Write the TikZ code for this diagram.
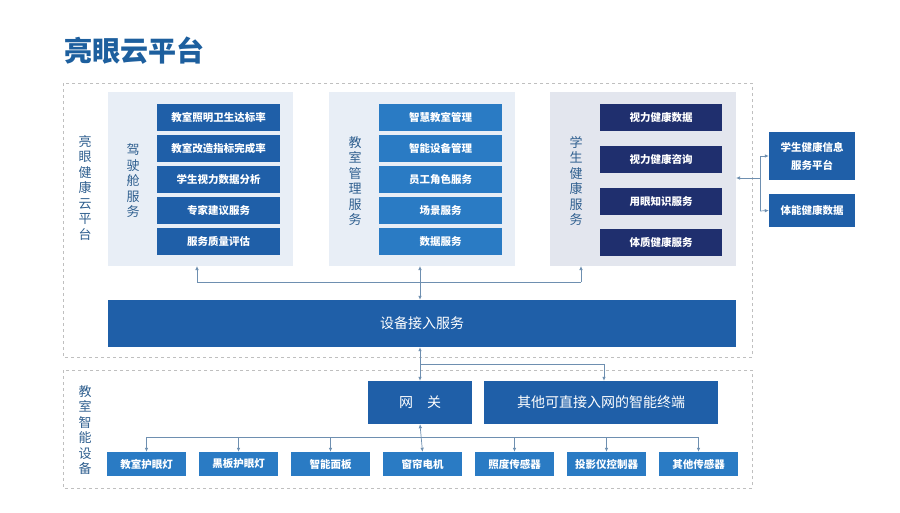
\documentclass[tikz,border=0pt]{standalone}
\usepackage{fontspec}
\setmainfont{Noto Sans CJK SC}
\usetikzlibrary{arrows.meta}
\definecolor{tb}{HTML}{1D5F9E}
\definecolor{db}{HTML}{1F5FA8}
\definecolor{lb}{HTML}{2A7BC4}
\definecolor{nv}{HTML}{1F2F6E}
\definecolor{p1}{HTML}{E8EEF6}
\definecolor{p3}{HTML}{E3E6EE}
\definecolor{ln}{HTML}{6E8FB0}
\definecolor{lab}{HTML}{2F5F8F}
\begin{document}
\begin{tikzpicture}[x=1pt,y=-1pt,
 bx/.style={draw=none,text=white,font=\fontsize{10.5}{12}\selectfont\bfseries,inner sep=0},
 vl/.style={text=lab,font=\fontsize{13}{15.5}\selectfont,align=center,inner sep=0},
 cn/.style={draw=ln,line width=0.7pt},
 ar/.style={cn,-{Latex[length=4pt,width=3.5pt]}},
 da/.style={cn,{Latex[length=4pt,width=3.5pt]}-{Latex[length=4pt,width=3.5pt]}},
 dsh/.style={draw=black!25,dashed,line width=0.6pt}]
\useasboundingbox (0,0) rectangle (900,512);
\fill[white] (0,0) rectangle (900,512);
\node[anchor=west,text=tb,font=\fontsize{28}{32}\selectfont\bfseries,inner sep=0] (title) at (64,51) {亮眼云平台};
\draw[dsh] (63,83) rectangle (752,357);
\draw[dsh] (63,370) rectangle (752,488);
\node[vl] (l0) at (85,188) {亮\\眼\\健\\康\\云\\平\\台};
\node[vl] (l4) at (85,430) {教\\室\\智\\能\\设\\备};
% panels
\fill[p1] (108,92) rectangle (293,266);
\fill[p1] (329,92) rectangle (515,266);
\fill[p3] (550,92) rectangle (736,266);
\node[vl] (l1) at (133,181) {驾\\驶\\舱\\服\\务};
\node[vl] (l2) at (355,181) {教\\室\\管\\理\\服\\务};
\node[vl] (l3) at (576,181) {学\\生\\健\\康\\服\\务};
\coordinate (p1b) at (197,266);
\coordinate (p2b) at (420,266);
\coordinate (p3b) at (581,266);
\foreach \t [count=\i] in {教室照明卫生达标率,教室改造指标完成率,学生视力数据分析,专家建议服务,服务质量评估}{
 \node[bx,fill=db,minimum width=123pt,minimum height=27pt] (a\i) at (218.5,{86.5+31*\i}) {\t};}
\foreach \t [count=\i] in {智慧教室管理,智能设备管理,员工角色服务,场景服务,数据服务}{
 \node[bx,fill=lb,minimum width=123pt,minimum height=27pt] (b\i) at (440.5,{86.5+31*\i}) {\t};}
\foreach \t/\y [count=\i] in {视力健康数据/117.5,视力健康咨询/159.5,用眼知识服务/201.5,体质健康服务/242.5}{
 \node[bx,fill=nv,minimum width=122pt,minimum height=27pt] (c\i) at (661,\y) {\t};}
\node[bx,fill=db,minimum width=86pt,minimum height=48pt,align=center,font=\fontsize{10.5}{18}\selectfont\bfseries] (r1) at (812,156) {学生健康信息\\服务平台};
\node[bx,fill=db,minimum width=86pt,minimum height=33pt] (r2) at (812,210.5) {体能健康数据};
\coordinate (pr) at (736,178);
\coordinate (br) at (760,178);
\draw[ar] (br) -- (pr);
\draw[cn] (760,156) -- (760,211);
\draw[ar] (760,156) -- (r1.west);
\draw[ar] (760,211) -- (r2.west);
% bar
\node[bx,fill=db,minimum width=628pt,minimum height=47pt,font=\fontsize{14}{16}\selectfont] (bar) at (422,323.5) {设备接入服务};
\draw[cn] (197,282) -- (581,282);
\draw[ar] (197,282) -- (p1b);
\draw[ar] (581,282) -- (p3b);
\draw[da] (p2b) -- (bar.north -| p2b);
% lower
\node[bx,fill=db,minimum width=104pt,minimum height=43pt,font=\fontsize{14}{16}\selectfont] (gw) at (420,402.5) {网\quad 关};
\node[bx,fill=db,minimum width=234pt,minimum height=43pt,font=\fontsize{14}{16}\selectfont] (ot) at (601,402.5) {其他可直接入网的智能终端};
\draw[da] (bar.south -| gw) -- (gw.north);
\draw[cn] (420,364) -- (604,364);
\draw[ar] (604,364) -- (ot.north -| 604,0);
\foreach \t [count=\i] in {教室护眼灯,黑板护眼灯,智能面板,窗帘电机,照度传感器,投影仪控制器,其他传感器}{
 \node[bx,fill=lb,minimum width=79pt,minimum height=24pt] (d\i) at ({54.5+92*\i},464) {\t};}
\draw[cn] (d1.north |- 0,437) -- (d7.north |- 0,437);
\foreach \i in {1,2,3,5,6,7}{\draw[ar] (d\i.north |- 0,437) -- (d\i.north);}
\draw[da] (gw.south) -- (d4.north);
\end{tikzpicture}
\end{document}
